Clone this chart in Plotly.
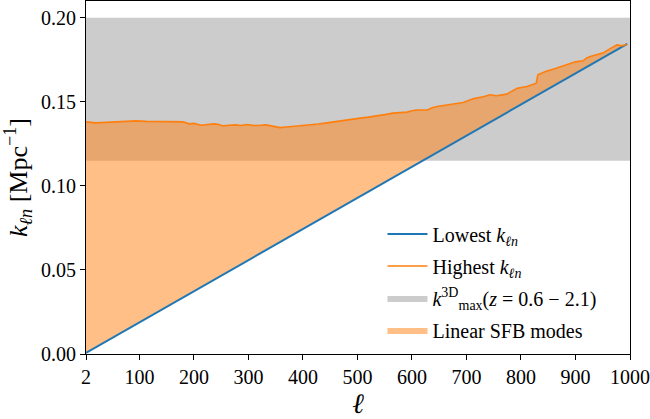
import plotly.graph_objects as go

# Lowest k_{ell n}
ell_low = [2, 200, 400, 600, 800, 995]
k_low = [0.0007, 0.0374, 0.0744, 0.1114, 0.1484, 0.1845]

# Highest k_{ell n}
ell_high = [2, 20, 40, 57, 75, 94, 112, 130, 150, 167, 180, 191, 200, 213, 225, 237, 246, 253,
            265, 277, 286, 296, 308, 319, 332, 345, 358, 370, 382, 398, 413, 428, 444, 460, 474,
            490, 505, 520, 536, 550, 565, 578, 591, 600, 609, 628, 637, 646, 664, 680, 694, 712,
            728, 743, 755, 774, 793, 811, 820, 828, 831, 845, 859, 875, 890, 900, 914, 920, 927,
            940, 950, 963, 976, 985, 994]
k_high = [0.1381, 0.1375, 0.1378, 0.1381, 0.1384, 0.1387, 0.1384, 0.1383, 0.1386, 0.1385, 0.1381,
          0.1369, 0.1372, 0.1361, 0.1366, 0.1369, 0.1365, 0.1357, 0.1361, 0.1363, 0.1359, 0.1365,
          0.1360, 0.1359, 0.1363, 0.1353, 0.1347, 0.1350, 0.1353, 0.1358, 0.1363, 0.1368, 0.1375,
          0.1383, 0.1391, 0.1397, 0.1403, 0.1409, 0.1415, 0.1424, 0.1433, 0.1436, 0.1439, 0.1447,
          0.1452, 0.1452, 0.1465, 0.1472, 0.1482, 0.1489, 0.1496, 0.1518, 0.1528, 0.1542, 0.1536,
          0.1546, 0.1581, 0.1591, 0.1600, 0.1611, 0.1661, 0.1680, 0.1694, 0.1712, 0.1730, 0.1738,
          0.1744, 0.1760, 0.1770, 0.1782, 0.1790, 0.1815, 0.1839, 0.1833, 0.1843]

# k_max^3D band
band_ell = [2, 1000]
band_k = [0.115, 0.2]

x_ticks = [2, 100, 200, 300, 400, 500, 600, 700, 800, 900, 1000]
y_ticks = [0.0, 0.05, 0.10, 0.15, 0.20]

FONT = "Liberation Serif"

fig = go.Figure()

# gray band
fig.add_trace(go.Scatter(
    x=[band_ell[0], band_ell[1], band_ell[1], band_ell[0], band_ell[0]],
    y=[band_k[0], band_k[0], band_k[1], band_k[1], band_k[0]],
    fill="toself", fillcolor="#cccccc", line=dict(width=0), mode="lines",
    name="<i>k</i><sup>3D</sup><sub>max</sub>(<i>z</i> = 0.6 − 2.1)",
    legendrank=3, legendgroup="c", hoverinfo="skip"))

# orange fill between lowest and highest
fig.add_trace(go.Scatter(
    x=ell_high + ell_low[::-1],
    y=k_high + k_low[::-1],
    fill="toself", fillcolor="rgba(255,127,14,0.5)", line=dict(width=0), mode="lines",
    name="Linear SFB modes", legendrank=4, legendgroup="d", hoverinfo="skip"))

fig.add_trace(go.Scatter(
    x=ell_low, y=k_low, mode="lines", line=dict(color="#1f77b4", width=2),
    name="Lowest <i>k</i><sub><i>ℓn</i></sub>", legendrank=1, legendgroup="a"))

fig.add_trace(go.Scatter(
    x=ell_high, y=k_high, mode="lines", line=dict(color="#ff7f0e", width=1.6),
    name="Highest <i>k</i><sub><i>ℓn</i></sub>", legendrank=2, legendgroup="b"))

axis_common = dict(showline=True, mirror=True, linecolor="black", linewidth=1.2,
                   ticks="outside", ticklen=5, tickwidth=1.2, tickcolor="black",
                   showgrid=False, zeroline=False, automargin=False,
                   tickfont=dict(family=FONT, size=20, color="black"))

fig.update_xaxes(range=[2, 1000], tickvals=x_ticks, ticktext=[str(v) for v in x_ticks],
                 title=dict(text="<i>ℓ</i>", font=dict(family=FONT, size=28, color="black"), standoff=2),
                 **axis_common)
fig.update_yaxes(range=[0, 0.21], tickvals=y_ticks, ticktext=[f"{v:.2f}" for v in y_ticks],
                 title=dict(text="<i>k</i><sub><i>ℓn</i></sub> [Mpc<sup>−1</sup>]",
                            font=dict(family=FONT, size=26, color="black"), standoff=6),
                 **axis_common)

fig.update_layout(
    width=650, height=419,
    margin=dict(l=86, r=20, t=1, b=65),
    plot_bgcolor="white", paper_bgcolor="white",
    font=dict(family=FONT, color="black"),
    showlegend=True,
    legend=dict(x=0.545, y=0.395, xanchor="left", yanchor="top",
                bgcolor="rgba(255,255,255,0)", borderwidth=0,
                font=dict(family=FONT, size=20, color="black"),
                itemwidth=40, tracegroupgap=3),
)

fig.write_html("out.html", config={"displayModeBar": False},
               post_script="document.body.style.margin='0';")
